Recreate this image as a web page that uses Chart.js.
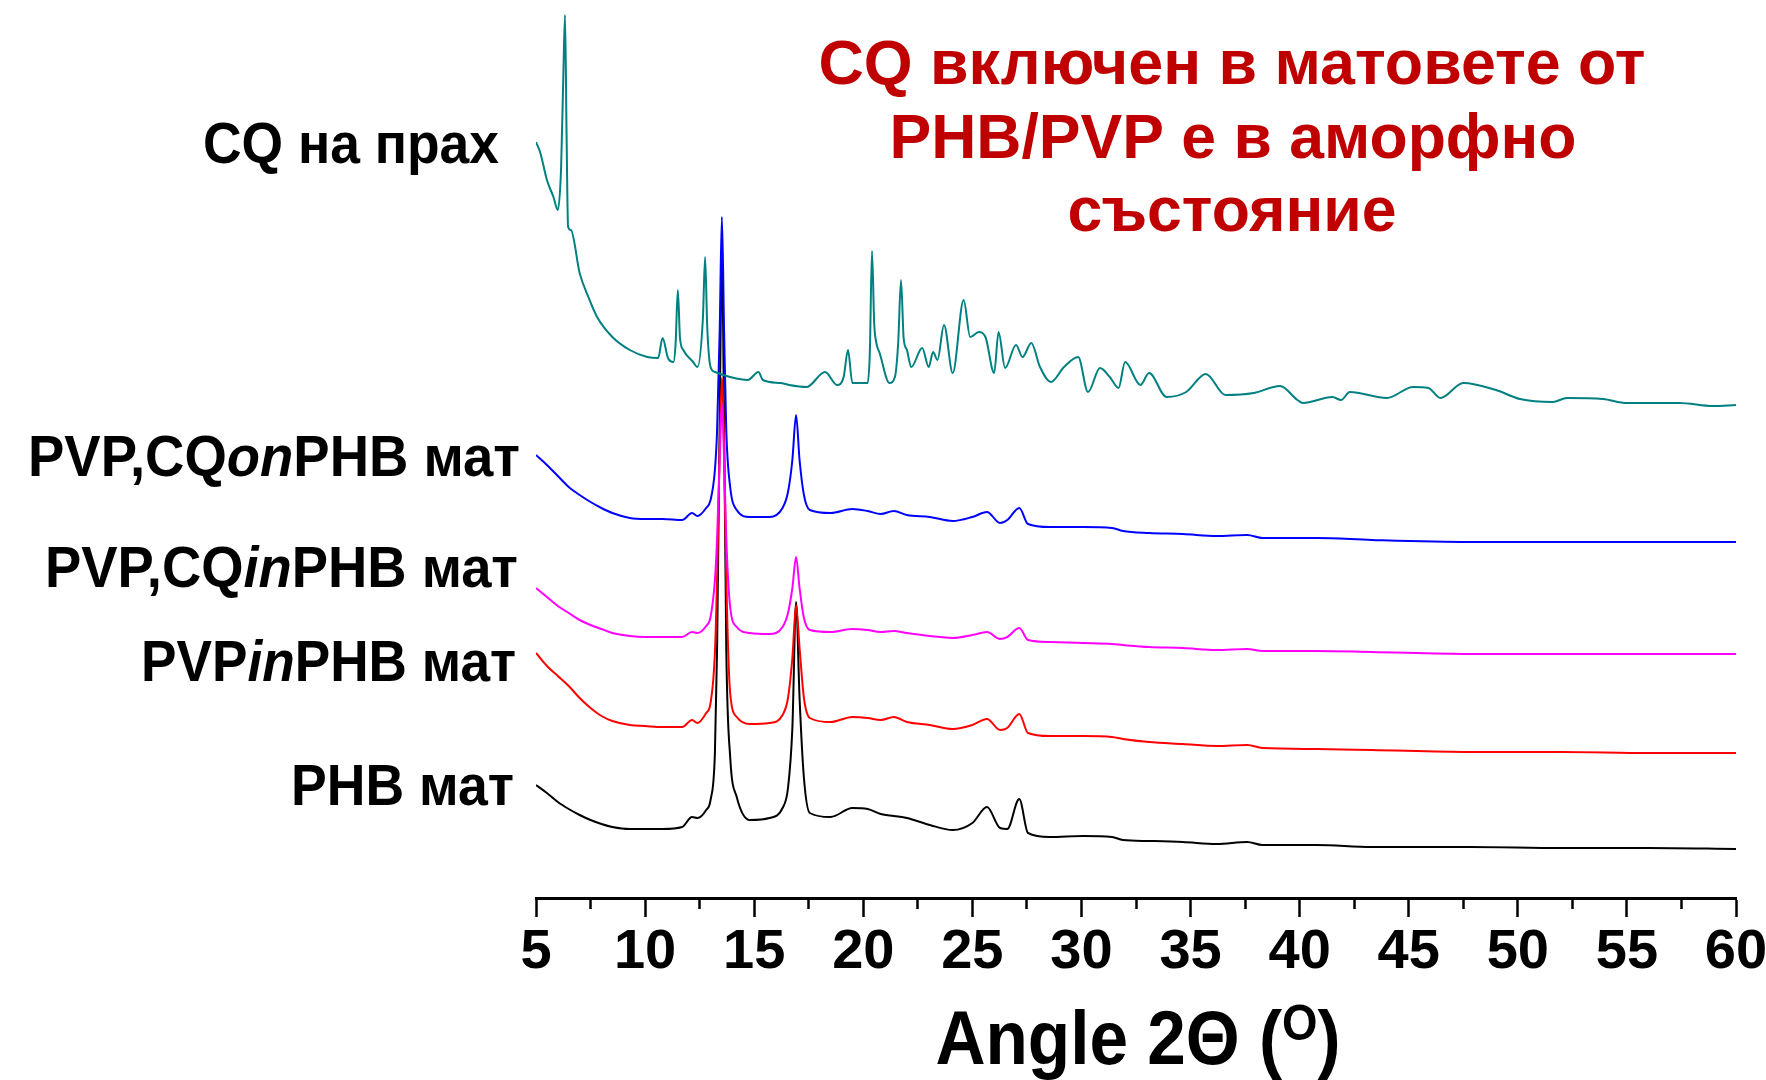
<!DOCTYPE html>
<html>
<head>
<meta charset="utf-8">
<script src="https://cdn.jsdelivr.net/npm/chart.js@4.4.1/dist/chart.umd.min.js"></script>
<style>
  body { margin: 0; background: #fff; }
  #wrap { width: 1766px; height: 1080px; }
</style>
</head>
<body>
<div id="wrap"><canvas id="xrdChart" width="1766" height="1080"></canvas></div>
<script>
// 2theta (deg) and intensity (a.u., curves already offset as in the figure)
const cqAngle = [5.0, 5.2, 5.5, 5.8, 6.0, 6.15, 6.25, 6.33, 6.4, 6.47, 6.6, 7.0, 7.4, 7.8, 8.5, 9.3,
    10.1, 10.6, 10.8, 11.05, 11.3, 11.4, 11.5, 11.6, 11.75, 12.2, 12.4, 12.65, 12.75, 12.85, 13.0, 13.2,
    13.9, 14.7, 15.2, 15.4, 16.2, 16.6, 17.4, 18.25, 18.8, 19.1, 19.3, 19.5, 20.2, 20.3, 20.4, 20.5,
    20.6, 20.75, 21.2, 21.45, 21.6, 21.73, 21.85, 22.0, 22.2, 22.7, 23.0, 23.2, 23.4, 23.7, 24.1, 24.6,
    24.9, 25.3, 25.6, 26.0, 26.2, 26.5, 27.0, 27.3, 27.7, 28.1, 28.6, 29.2, 29.85, 30.3, 30.85, 31.3,
    31.7, 32.0, 32.7, 33.1, 33.9, 34.8, 35.7, 36.6, 37.9, 39.1, 39.9, 40.15, 41.5, 41.9, 42.3, 44.0,
    45.2, 45.9, 46.45, 47.5, 49.0, 50.1, 51.6, 52.25, 53.9, 55.0, 57.4, 58.95, 60.0];
const cqIntensity = [756, 745, 718, 701, 688, 730, 820, 883, 765, 671, 668, 625, 601, 581, 561, 548,
    541, 540, 560, 540, 536, 555, 608, 560, 548, 536, 531, 580, 641, 570, 531, 526,
    521, 518, 526, 518, 515, 513, 511, 526, 513, 521, 548, 515, 515, 545, 647, 575,
    555, 545, 515, 521, 555, 618, 560, 548, 531, 550, 531, 546, 538, 573, 525, 598,
    561, 566, 561, 525, 566, 530, 553, 541, 555, 531, 516, 531, 541, 506, 530, 521,
    510, 536, 513, 525, 501, 506, 524, 503, 505, 512, 498, 495, 501, 498, 506, 500,
    511, 510, 500, 515, 508, 499, 496, 500, 499, 495, 495, 492, 493];

const matAngle = [5.0, 5.5, 6.0, 6.5, 7.0, 7.5, 8.0, 8.5, 9.3, 10.0, 10.8, 11.7, 12.15, 12.4, 12.8,
    13.0, 13.2, 13.3, 13.42, 13.52, 13.62, 13.72, 13.9, 14.2, 14.8, 15.7, 16.3, 16.55, 16.75, 16.92,
    17.08, 17.28, 17.55, 18.5, 19.5, 20.2, 20.8, 21.4, 22.0, 23.05, 24.1, 25.0, 25.67, 26.27, 26.6,
    27.15, 27.55, 28.55, 30.07, 31.4, 31.9, 33.1, 34.65, 36.2, 37.6, 38.3, 40.8, 43.3, 47.8, 52.0,
    56.0, 60.0];
const cqOnPhb = [443, 433, 422, 411, 403, 396, 390, 385, 380, 379, 379, 378, 385, 382, 390,
    398, 428, 468, 568, 681, 568, 468, 411, 388, 381, 381, 390, 406, 438, 483,
    438, 403, 388, 385, 389, 387, 384, 387, 383, 381, 377, 381, 386, 375, 378,
    390, 374, 371, 371, 370, 367, 365, 364, 362, 363, 360, 360, 358, 356, 356,
    356, 356];
const cqInPhb = [310, 301, 292, 285, 278, 273, 269, 265, 262, 261, 261, 261, 266, 265, 272,
    281, 318, 360, 440, 495, 440, 360, 291, 271, 265, 264, 271, 285, 310, 341,
    310, 280, 268, 266, 269, 268, 266, 267, 265, 262, 260, 263, 266, 259, 261,
    270, 258, 256, 255, 254, 253, 251, 250, 248, 249, 247, 247, 246, 244, 244,
    244, 244];
const pvpInPhb = [245, 232, 222, 212, 200, 190, 182, 177, 173, 172, 171, 171, 178, 175, 185,
    195, 245, 320, 450, 520, 450, 320, 205, 181, 174, 175, 183, 200, 240, 293,
    250, 200, 180, 176, 181, 180, 178, 181, 176, 173, 169, 173, 179, 168, 170,
    184, 165, 162, 162, 161, 159, 156, 154, 152, 153, 150, 149, 148, 146, 146,
    145, 145];
const phbOnly = [113, 105, 96, 89, 83, 78, 74, 71, 69, 69, 69, 71, 81, 80, 88,
    98, 145, 250, 480, 640, 480, 250, 141, 101, 78, 80, 90, 110, 170, 296,
    200, 120, 85, 81, 90, 89, 84, 82, 80, 73, 68, 75, 91, 70, 69,
    99, 65, 61, 62, 61, 58, 57, 56, 54, 56, 53, 53, 51, 51, 50,
    50, 49];

const majorTicks = [5, 10, 15, 20, 25, 30, 35, 40, 45, 50, 55, 60];
const minorTicks = [7.5, 12.5, 17.5, 22.5, 27.5, 32.5, 37.5, 42.5, 47.5, 52.5, 57.5];

const seriesNames = ['CQ на прах', 'PVP,CQonPHB мат', 'PVP,CQinPHB мат', 'PVPinPHB мат', 'PHB мат'];
const seriesColors = ['#008080', '#0000ff', '#ff00ff', '#ff0000', '#000000'];
const noteLines = ['CQ включен в матовете от', 'PHB/PVP е в аморфно', 'състояние'];

function toPoints(xs, ys) {
    return xs.map((x, i) => ({ x: x, y: ys[i] }));
}

const FONT = '"Liberation Sans", Arial, sans-serif';

// draws text squeezed/stretched to a given width (the figure uses a narrow face)
function fitText(ctx, parts, size, x, baseline, width, align, color) {
    ctx.save();
    ctx.fillStyle = color;
    ctx.textBaseline = 'alphabetic';
    ctx.textAlign = 'left';
    let total = 0;
    const widths = parts.map(p => {
        ctx.font = (p.italic ? 'italic ' : '') + 'bold ' + (p.size || size) + 'px ' + FONT;
        const w = ctx.measureText(p.text).width;
        total += w;
        return w;
    });
    const sx = width / total;
    const left = align === 'right' ? x - width : (align === 'center' ? x - width / 2 : x);
    ctx.translate(left, baseline);
    ctx.scale(sx, 1);
    let cx = 0;
    parts.forEach((p, i) => {
        ctx.font = (p.italic ? 'italic ' : '') + 'bold ' + (p.size || size) + 'px ' + FONT;
        ctx.fillText(p.text, cx, -(p.rise || 0));
        cx += widths[i];
    });
    ctx.restore();
}

const figureText = {
    id: 'figureText',
    afterDraw(chart) {
        const ctx = chart.ctx;
        // curve names on the left
        fitText(ctx, [{ text: seriesNames[0] }], 58, 499, 163, 296, 'right', '#000');
        fitText(ctx, [{ text: 'PVP,CQ' }, { text: 'on', italic: true }, { text: 'PHB мат' }], 58, 520, 476, 492, 'right', '#000');
        fitText(ctx, [{ text: 'PVP,CQ' }, { text: 'in', italic: true }, { text: 'PHB мат' }], 58, 518, 587, 473, 'right', '#000');
        fitText(ctx, [{ text: 'PVP' }, { text: 'in', italic: true }, { text: 'PHB мат' }], 58, 516, 681, 375, 'right', '#000');
        fitText(ctx, [{ text: seriesNames[4] }], 58, 514, 805, 223, 'right', '#000');

        // red note
        fitText(ctx, [{ text: noteLines[0] }], 63, 1232, 84, 827, 'center', '#c00000');
        fitText(ctx, [{ text: noteLines[1] }], 63, 1233, 158, 687, 'center', '#c00000');
        fitText(ctx, [{ text: noteLines[2] }], 63, 1232, 231, 329, 'center', '#c00000');

        // axis title
        fitText(ctx, [{ text: 'Angle 2Θ (' }, { text: 'O', size: 50, rise: 24 }, { text: ')' }],
            76, 1138, 1064, 405, 'center', '#000');
    }
};

const ctx = document.getElementById('xrdChart').getContext('2d');
new Chart(ctx, {
    type: 'line',
    data: {
        datasets: [
            { label: seriesNames[0], data: toPoints(cqAngle, cqIntensity), borderColor: seriesColors[0] },
            { label: seriesNames[1], data: toPoints(matAngle, cqOnPhb), borderColor: seriesColors[1] },
            { label: seriesNames[2], data: toPoints(matAngle, cqInPhb), borderColor: seriesColors[2] },
            { label: seriesNames[3], data: toPoints(matAngle, pvpInPhb), borderColor: seriesColors[3] },
            { label: seriesNames[4], data: toPoints(matAngle, phbOnly), borderColor: seriesColors[4] }
        ].map(d => Object.assign(d, {
            borderWidth: 2,
            pointRadius: 0,
            cubicInterpolationMode: 'monotone',
            fill: false
        }))
    },
    options: {
        responsive: false,
        maintainAspectRatio: false,
        animation: false,
        layout: { padding: { left: 536, right: 30, top: 0, bottom: 0 } },
        plugins: { legend: { display: false }, tooltip: { enabled: false } },
        scales: {
            x: {
                type: 'linear',
                position: 'bottom',
                weight: 1,
                min: 5,
                max: 60,
                afterBuildTicks: s => { s.ticks = majorTicks.map(v => ({ value: v })); },
                afterFit: s => { s.height = 182; s.paddingLeft = 0; s.paddingRight = 0; },
                border: { display: true, color: '#000', width: 3 },
                grid: { drawOnChartArea: false, drawTicks: true, tickLength: 19, tickWidth: 2.5, tickColor: '#000' },
                ticks: {
                    autoSkip: false,
                    maxRotation: 0,
                    padding: 2,
                    color: '#000',
                    font: { family: FONT, size: 56, weight: 'bold' }
                }
            },
            xMinor: {
                type: 'linear',
                position: 'bottom',
                weight: 0,
                min: 5,
                max: 60,
                afterBuildTicks: s => { s.ticks = minorTicks.map(v => ({ value: v })); },
                afterFit: s => { s.height = 0; s.paddingLeft = 0; s.paddingRight = 0; },
                border: { display: false },
                grid: { drawOnChartArea: false, drawTicks: true, tickLength: 11, tickWidth: 2.5, tickColor: '#000' },
                ticks: { display: false }
            },
            y: {
                display: false,
                min: 0,
                max: 898
            }
        }
    },
    plugins: [figureText]
});
</script>
</body>
</html>
